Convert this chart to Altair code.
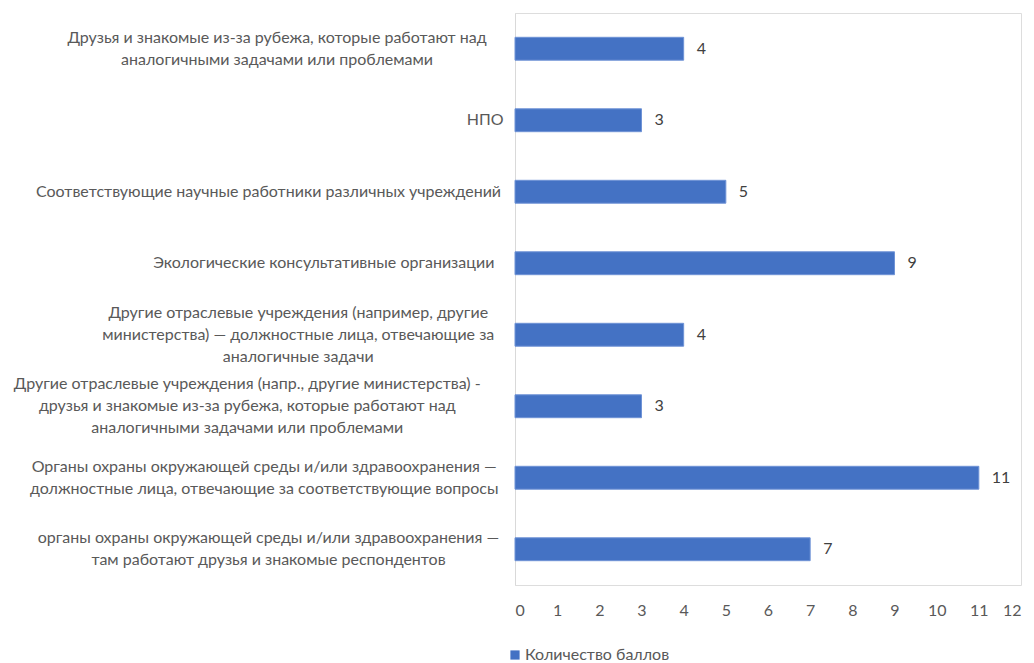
import altair as alt
import pandas as pd

categories = [
    "Друзья и знакомые из-за рубежа, которые работают над|аналогичными задачами или проблемами",
    "НПО",
    "Соответствующие научные работники различных учреждений",
    "Экологические консультативные организации",
    "Другие отраслевые учреждения (например, другие|министерства) — должностные лица, отвечающие за|аналогичные задачи",
    "Другие отраслевые учреждения (напр., другие министерства) -|друзья и знакомые из-за рубежа, которые работают над|аналогичными задачами или проблемами",
    "Органы охраны окружающей среды и/или здравоохранения —|должностные лица, отвечающие за соответствующие вопросы",
    "органы охраны окружающей среды и/или здравоохранения —|там работают друзья и знакомые респондентов",
]
values = [4, 3, 5, 9, 4, 3, 11, 7]
series_name = "Количество баллов"

df = pd.DataFrame({"cat": categories, "val": values, "series": [series_name] * len(values)})

# one row per printed line of each category label
rows = []
for c in categories:
    parts = c.split("|")
    for i, p in enumerate(parts):
        rows.append({"cat": c, "line": p, "idx": i, "n": len(parts),
                     "maxlen": max(len(q) for q in parts)})
lines_df = pd.DataFrame(rows)

FONT = "Lato"
GREY = "#595959"
FS = 16

yscale = alt.Scale(paddingInner=0.68, paddingOuter=0.34)

bars = alt.Chart(df).mark_bar(stroke="#6f93d6", strokeWidth=1).encode(
    y=alt.Y(
        "cat:N",
        sort=categories,
        title=None,
        scale=yscale,
        axis=alt.Axis(
            domain=True,
            domainColor="#d9d9d9",
            domainWidth=1,
            ticks=False,
            grid=False,
            labels=False,
        ),
    ),
    x=alt.X(
        "val:Q",
        title=None,
        scale=alt.Scale(domain=[0, 12], nice=False),
        axis=alt.Axis(
            values=list(range(0, 13)),
            domain=False,
            ticks=False,
            grid=False,
            labelPadding=17,
            labelFont=FONT,
            labelFontSize=FS,
            labelColor=GREY,
        ),
    ),
    color=alt.Color(
        "series:N",
        scale=alt.Scale(range=["#4472C4"]),
        legend=alt.Legend(
            title=None,
            orient="none",
            legendX=-8,
            legendY=634,
            symbolType="square",
            symbolSize=85,
            symbolStrokeWidth=0,
            labelFont=FONT,
            labelFontSize=FS,
            labelColor=GREY,
            labelOffset=2,
        ),
    ),
)

texts = alt.Chart(df).mark_text(
    align="left", baseline="middle", dx=13, font=FONT, fontSize=FS, color="#404040"
).encode(y=alt.Y("cat:N", sort=categories), x="val:Q", text="val:Q")

cat_labels = (
    alt.Chart(lines_df)
    .transform_calculate(
        cx="-17 - datum.maxlen * 4.25",
        off="11.4 + (datum.idx - (datum.n - 1) / 2) * 22",
    )
    .mark_text(align="center", baseline="middle", font=FONT, fontSize=FS, color=GREY)
    .encode(
        y=alt.Y("cat:N", sort=categories),
        yOffset=alt.YOffset("off:Q", scale=None),
        x=alt.datum(0),
        xOffset=alt.XOffset("cx:Q", scale=None),
        text="line:N",
    )
)

chart = (
    alt.layer(bars, texts, cat_labels)
    .properties(
        width=506,
        height=572,
        autosize=alt.AutoSizeParams(type="none"),
        padding={"left": 515, "top": 13, "right": 13, "bottom": 78},
    )
    .configure_view(stroke=None)
    .configure(background="white")
)

chart.save("out.html", embed_options={"renderer": "svg", "actions": False})
